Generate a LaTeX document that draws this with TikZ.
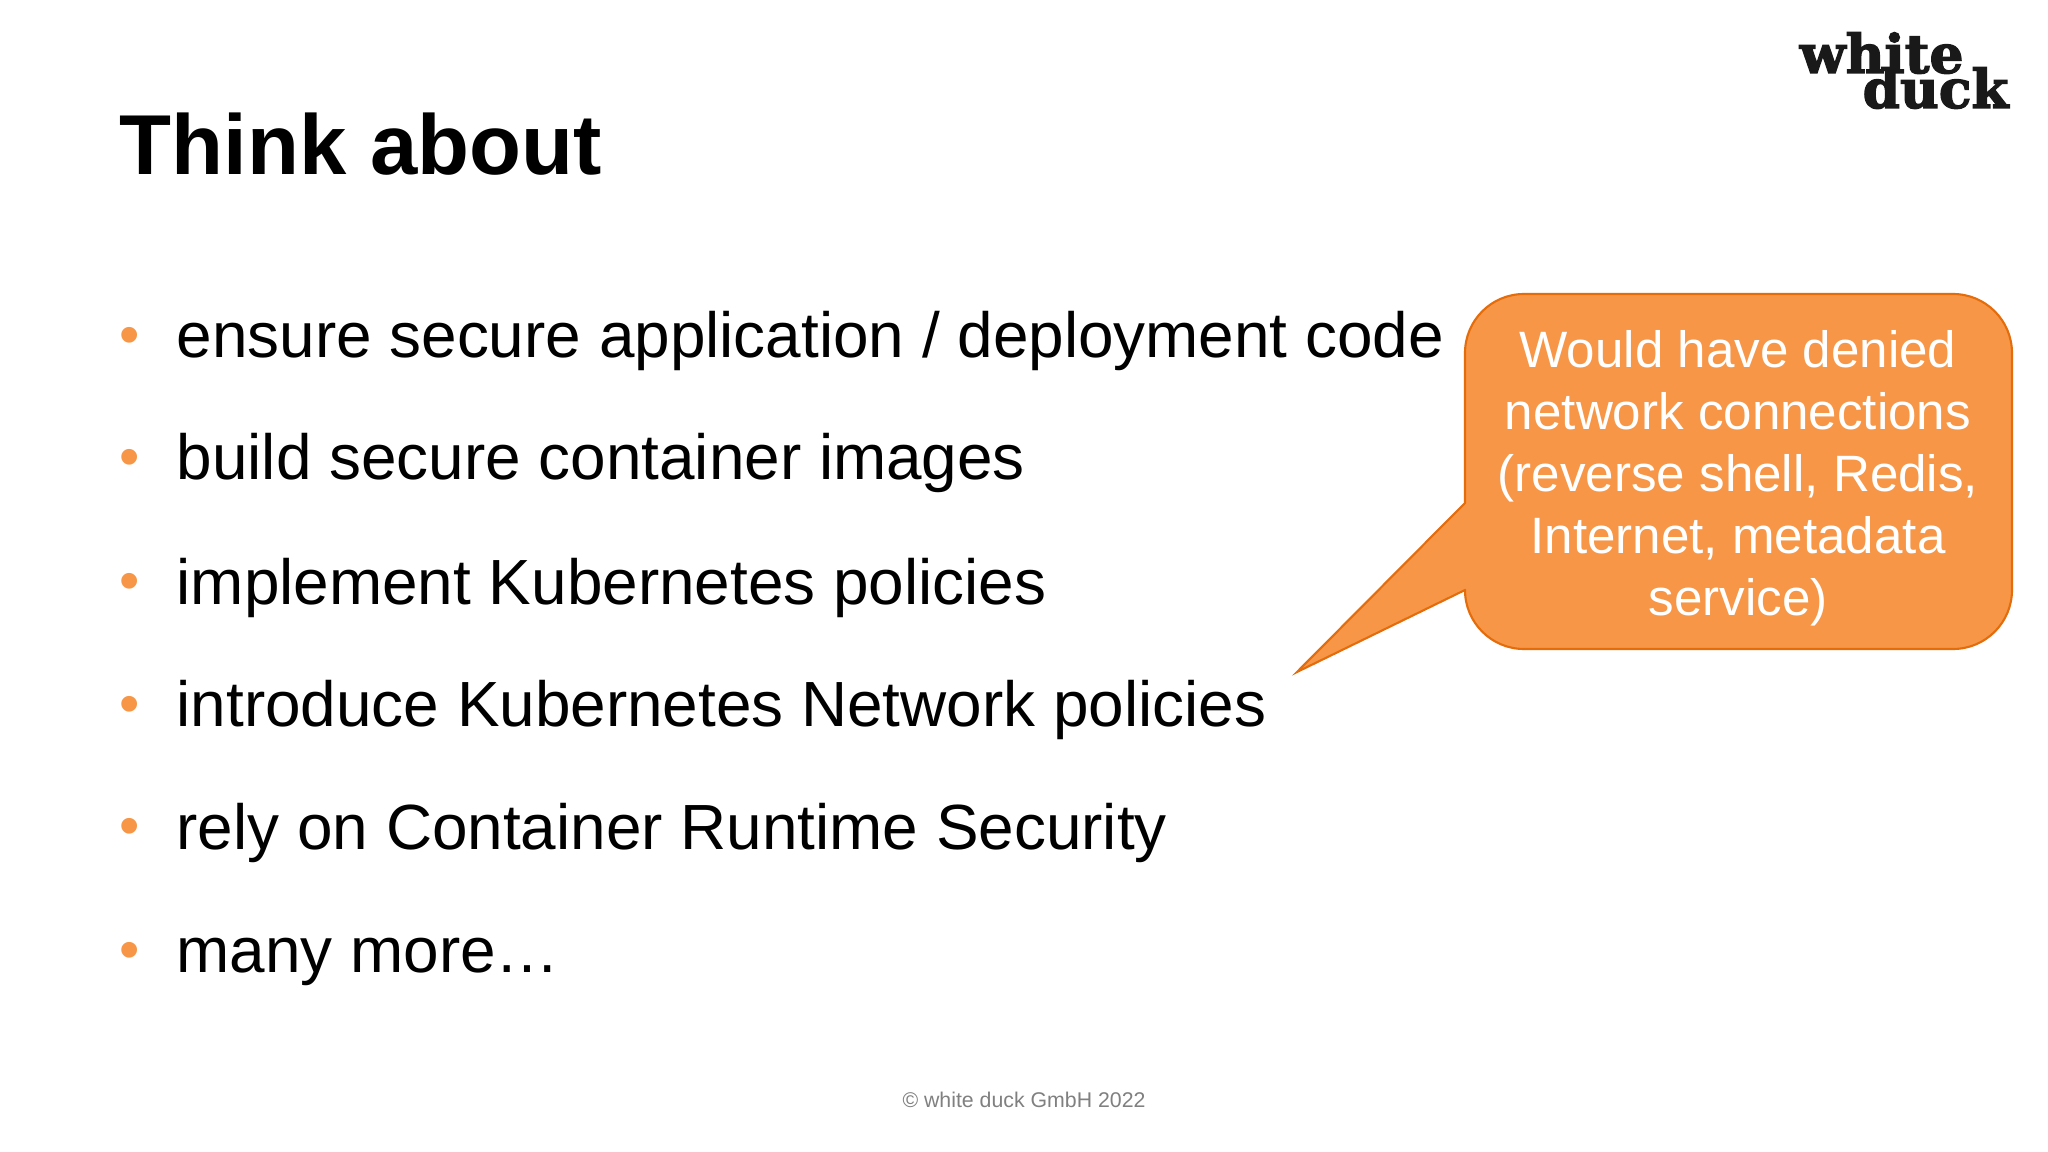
\documentclass[tikz,border=0pt]{standalone}
\usepackage{fontspec}
\setmainfont{Liberation Sans}
\newfontfamily\logofont{DejaVu Serif Bold}[FakeBold=2.5]
\definecolor{duckorange}{HTML}{F79646}
\definecolor{duckline}{HTML}{E46C0A}
\tikzset{
  itemtext/.style={anchor=base west,inner sep=0,font=\fontsize{18.17}{22}\selectfont},
  itemdot/.style={anchor=base,inner sep=0,text=duckorange,font=\fontsize{16.5}{22}\selectfont},
  logotext/.style={anchor=base west,inner sep=0,text=black!90,font=\logofont\fontsize{15.2}{18}\selectfont}
}
\begin{document}
\begin{tikzpicture}
      \useasboundingbox (0,0) rectangle (20.48,-11.52);
      \fill[white] (0,0) rectangle (20.48,-11.52);

      \node[anchor=base west,inner sep=0,font=\bfseries\fontsize{24.2}{29}\selectfont] (title) at (1.19,-1.75) {Think about};

      \foreach \i/\y/\txt in {1/3.58/{ensure secure application / deployment code},
                              2/4.80/build secure container images,
                              3/6.04/implement Kubernetes policies,
                              4/7.27/introduce Kubernetes Network policies,
                              5/8.49/rely on Container Runtime Security,
                              6/9.73/many more…}
      {
        \node[itemdot] (dot\i) at (1.295,-\y+0.035) {•};
        \node[itemtext] (item\i) at (1.76,-\y) {\txt};
      }

      \draw[fill=duckorange,draw=duckline,line width=0.6pt,line join=miter]
        (14.65,-3.53) arc [start angle=180,end angle=90,radius=0.59]
        -- (19.53,-2.94) arc [start angle=90,end angle=0,radius=0.59]
        -- (20.12,-5.90) arc [start angle=0,end angle=-90,radius=0.59]
        -- (15.24,-6.49) arc [start angle=-90,end angle=-180,radius=0.59]
        -- (14.65,-5.90) -- (12.97,-6.72) -- (14.65,-5.03) -- cycle;

      \node[text=white,align=center,inner sep=0,font=\fontsize{14.55}{17.65}\selectfont] (note) at (17.38,-4.78)
        {Would have denied\\network connections\\(reverse shell, Redis,\\Internet, metadata\\service)};

      \node[logotext] (logowhite) at (17.99,-0.73) {white};
      \node[logotext] (logoduck) at (18.62,-1.08) {duck};

      \node[text=black!50,inner sep=0,font=\fontsize{6.06}{8}\selectfont] (copy) at (10.24,-11.00) {© white duck GmbH 2022};
\end{tikzpicture}
\end{document}
